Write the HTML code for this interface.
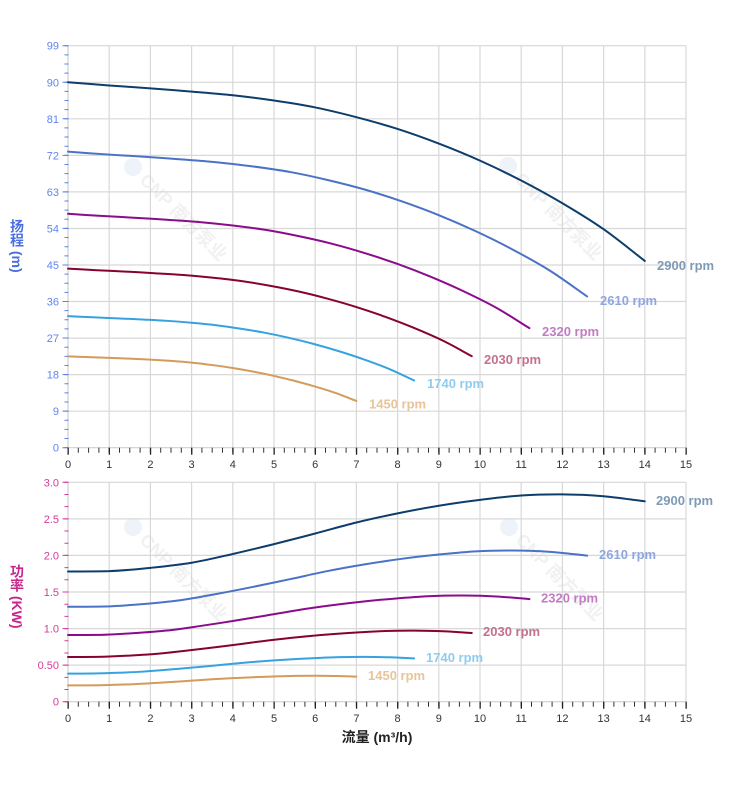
<!DOCTYPE html>
<html><head><meta charset="utf-8"><style>
html,body{margin:0;padding:0;background:#fff;}
svg{display:block;}
text{font-family:"Liberation Sans","Noto Sans CJK SC",sans-serif;}
</style></head><body>
<svg width="752" height="797" viewBox="0 0 752 797" xmlns="http://www.w3.org/2000/svg">
<rect width="752" height="797" fill="#fff"/>
<defs>
<path id="hc" vector-effect="non-scaling-stroke" d="M0 90C0.333 89.733 0.667 89.45 1 89.2C1.333 88.95 1.667 88.75 2 88.5C2.333 88.25 2.667 87.983 3 87.7C3.333 87.417 3.667 87.167 4 86.8C4.333 86.433 4.667 86 5 85.5C5.333 85 5.667 84.483 6 83.8C6.333 83.117 6.667 82.283 7 81.4C7.333 80.517 7.667 79.583 8 78.5C8.333 77.417 8.667 76.2 9 74.9C9.333 73.6 9.667 72.217 10 70.7C10.333 69.183 10.667 67.55 11 65.8C11.333 64.05 11.667 62.2 12 60.2C12.333 58.2 12.667 56.167 13 53.8C13.333 51.433 13.667 48.6 14 46"/>
<path id="pc" vector-effect="non-scaling-stroke" d="M0 1.78C0.333 1.7805 0.667 1.781 1 1.785C1.333 1.7933 1.667 1.8108 2 1.83C2.333 1.8492 2.667 1.8683 3 1.9C3.333 1.9317 3.667 1.9775 4 2.02C4.333 2.0625 4.667 2.1083 5 2.155C5.333 2.2017 5.667 2.2508 6 2.3C6.333 2.3492 6.667 2.4042 7 2.45C7.333 2.4958 7.667 2.5367 8 2.575C8.333 2.6133 8.667 2.6492 9 2.68C9.333 2.7108 9.667 2.7367 10 2.76C10.333 2.7833 10.667 2.8075 11 2.82C11.333 2.8325 11.667 2.8367 12 2.835C12.333 2.8333 12.667 2.8258 13 2.81C13.333 2.7942 13.667 2.7633 14 2.74"/>
</defs>

<!-- watermarks -->
<g font-weight="bold" font-size="18">
  <g transform="translate(133,167) rotate(45)"><circle cx="0" cy="0" r="9" fill="#edf3f9"/><text x="14" y="6" fill="#f1f1f1">CNP 南方泵业</text></g>
  <g transform="translate(508,166) rotate(45)"><circle cx="0" cy="0" r="9" fill="#edf3f9"/><text x="14" y="6" fill="#f1f1f1">CNP 南方泵业</text></g>
  <g transform="translate(133,527) rotate(45)"><circle cx="0" cy="0" r="9" fill="#edf3f9"/><text x="14" y="6" fill="#f1f1f1">CNP 南方泵业</text></g>
  <g transform="translate(509,527) rotate(45)"><circle cx="0" cy="0" r="9" fill="#edf3f9"/><text x="14" y="6" fill="#f1f1f1">CNP 南方泵业</text></g>
</g>

<!-- top grid -->
<g stroke="#d8d8d8" stroke-width="1.2" fill="none">
  <path d="M109.2 45.7V447.7M150.4 45.7V447.7M191.6 45.7V447.7M232.8 45.7V447.7M274 45.7V447.7M315.2 45.7V447.7M356.4 45.7V447.7M397.6 45.7V447.7M438.8 45.7V447.7M480 45.7V447.7M521.2 45.7V447.7M562.4 45.7V447.7M603.6 45.7V447.7M644.8 45.7V447.7M686 45.7V447.7"/>
  <path d="M68 411.2H686M68 374.6H686M68 338.1H686M68 301.5H686M68 265H686M68 228.5H686M68 191.9H686M68 155.4H686M68 118.8H686M68 82.3H686M68 45.7H686"/>
  <path d="M68 45.7V447.7M68 447.7H686" stroke="#cfcfcf"/>
</g>
<!-- bottom grid -->
<g stroke="#d8d8d8" stroke-width="1.2" fill="none">
  <path d="M109.2 482.3V701.7M150.4 482.3V701.7M191.6 482.3V701.7M232.8 482.3V701.7M274 482.3V701.7M315.2 482.3V701.7M356.4 482.3V701.7M397.6 482.3V701.7M438.8 482.3V701.7M480 482.3V701.7M521.2 482.3V701.7M562.4 482.3V701.7M603.6 482.3V701.7M644.8 482.3V701.7M686 482.3V701.7"/>
  <path d="M68 665.1H686M68 628.6H686M68 592H686M68 555.4H686M68 518.9H686M68 482.3H686"/>
  <path d="M68 482.3V701.7M68 701.7H686" stroke="#cfcfcf"/>
</g>

<!-- top y ticks -->
<line x1="66.5" y1="45.2" x2="66.5" y2="449" stroke="#5a7fe6" stroke-width="4" stroke-dasharray="1 8.136"/>
<line x1="65.5" y1="45.2" x2="65.5" y2="449" stroke="#5a7fe6" stroke-width="6" stroke-dasharray="1 35.545"/>
<!-- bottom y ticks -->
<line x1="66.5" y1="481.8" x2="66.5" y2="703" stroke="#d6359a" stroke-width="4" stroke-dasharray="1 11.189"/>
<line x1="65.5" y1="481.8" x2="65.5" y2="703" stroke="#d6359a" stroke-width="6" stroke-dasharray="1 35.567"/>
<!-- x ticks top -->
<line x1="67.5" y1="450.2" x2="688" y2="450.2" stroke="#333" stroke-width="5" stroke-dasharray="1 9.3"/>
<line x1="67.5" y1="451.2" x2="688" y2="451.2" stroke="#222" stroke-width="7" stroke-dasharray="1.3 39.9"/>
<!-- x ticks bottom -->
<line x1="67.5" y1="704.2" x2="688" y2="704.2" stroke="#333" stroke-width="5" stroke-dasharray="1 9.3"/>
<line x1="67.5" y1="705.2" x2="688" y2="705.2" stroke="#222" stroke-width="7" stroke-dasharray="1.3 39.9"/>

<!-- top y labels -->
<g font-size="11" fill="#5f84ee" text-anchor="end">
  <text x="59" y="49.7">99</text><text x="59" y="86.3">90</text><text x="59" y="122.8">81</text>
  <text x="59" y="159.4">72</text><text x="59" y="195.9">63</text><text x="59" y="232.5">54</text>
  <text x="59" y="269">45</text><text x="59" y="305.5">36</text><text x="59" y="342.1">27</text>
  <text x="59" y="378.6">18</text><text x="59" y="415.2">9</text><text x="59" y="451.7">0</text>
</g>
<!-- bottom y labels -->
<g font-size="11" fill="#d63c97" text-anchor="end">
  <text x="59" y="486.3">3.0</text><text x="59" y="522.9">2.5</text><text x="59" y="559.4">2.0</text>
  <text x="59" y="596">1.5</text><text x="59" y="632.6">1.0</text><text x="59" y="669.1">0.50</text>
  <text x="59" y="705.7">0</text>
</g>
<!-- x labels -->
<g font-size="11" fill="#333" text-anchor="middle">
  <text x="68" y="468">0</text><text x="109.2" y="468">1</text><text x="150.4" y="468">2</text><text x="191.6" y="468">3</text>
  <text x="232.8" y="468">4</text><text x="274" y="468">5</text><text x="315.2" y="468">6</text><text x="356.4" y="468">7</text>
  <text x="397.6" y="468">8</text><text x="438.8" y="468">9</text><text x="480" y="468">10</text><text x="521.2" y="468">11</text>
  <text x="562.4" y="468">12</text><text x="603.6" y="468">13</text><text x="644.8" y="468">14</text><text x="686" y="468">15</text>
</g>
<g font-size="11" fill="#333" text-anchor="middle">
  <text x="68" y="722">0</text><text x="109.2" y="722">1</text><text x="150.4" y="722">2</text><text x="191.6" y="722">3</text>
  <text x="232.8" y="722">4</text><text x="274" y="722">5</text><text x="315.2" y="722">6</text><text x="356.4" y="722">7</text>
  <text x="397.6" y="722">8</text><text x="438.8" y="722">9</text><text x="480" y="722">10</text><text x="521.2" y="722">11</text>
  <text x="562.4" y="722">12</text><text x="603.6" y="722">13</text><text x="644.8" y="722">14</text><text x="686" y="722">15</text>
</g>

<!-- axis titles -->
<text x="377" y="742" font-size="14" font-weight="bold" fill="#222" text-anchor="middle">流量 (m³/h)</text>
<text x="17" y="219" font-size="14" font-weight="bold" fill="#4a6de0" style="writing-mode:vertical-rl;text-orientation:mixed;">扬程 (m)</text>
<text x="17" y="564" font-size="14" font-weight="bold" fill="#c8268c" style="writing-mode:vertical-rl;text-orientation:mixed;">功率 (KW)</text>

<!-- head curves -->
<g transform="translate(68,447.7) scale(41.2,-4.0606)" fill="none" stroke-linejoin="round" stroke-linecap="round" stroke-width="2">
  <use href="#hc" stroke="#0d3d6b"/>
  <use href="#hc" transform="scale(0.9,0.81)" stroke="#4a72c6"/>
  <use href="#hc" transform="scale(0.8,0.64)" stroke="#8b0b8d"/>
  <use href="#hc" transform="scale(0.7,0.49)" stroke="#870132"/>
  <use href="#hc" transform="scale(0.6,0.36)" stroke="#36a2e0"/>
  <use href="#hc" transform="scale(0.5,0.25)" stroke="#d39b5c"/>
</g>
<!-- power curves -->
<g transform="translate(68,701.7) scale(41.2,-73.133)" fill="none" stroke-linejoin="round" stroke-linecap="round" stroke-width="2">
  <use href="#pc" stroke="#0d3d6b"/>
  <use href="#pc" transform="scale(0.9,0.729)" stroke="#4a72c6"/>
  <use href="#pc" transform="scale(0.8,0.512)" stroke="#8b0b8d"/>
  <use href="#pc" transform="scale(0.7,0.343)" stroke="#870132"/>
  <use href="#pc" transform="scale(0.6,0.216)" stroke="#36a2e0"/>
  <use href="#pc" transform="scale(0.5,0.125)" stroke="#d39b5c"/>
</g>

<!-- curve labels -->
<g font-size="13" font-weight="bold">
  <text x="657" y="270" fill="#7f9ab6">2900 rpm</text>
  <text x="600" y="305" fill="#8fa6de">2610 rpm</text>
  <text x="542" y="336" fill="#c27cc4">2320 rpm</text>
  <text x="484" y="364" fill="#c4718f">2030 rpm</text>
  <text x="427" y="388" fill="#8ccdf0">1740 rpm</text>
  <text x="369" y="408.5" fill="#e7c49a">1450 rpm</text>

  <text x="656" y="505" fill="#7f9ab6">2900 rpm</text>
  <text x="599" y="559" fill="#8fa6de">2610 rpm</text>
  <text x="541" y="602.5" fill="#c27cc4">2320 rpm</text>
  <text x="483" y="636" fill="#c4718f">2030 rpm</text>
  <text x="426" y="662" fill="#8ccdf0">1740 rpm</text>
  <text x="368" y="680" fill="#e7c49a">1450 rpm</text>
</g>
</svg>
</body></html>
